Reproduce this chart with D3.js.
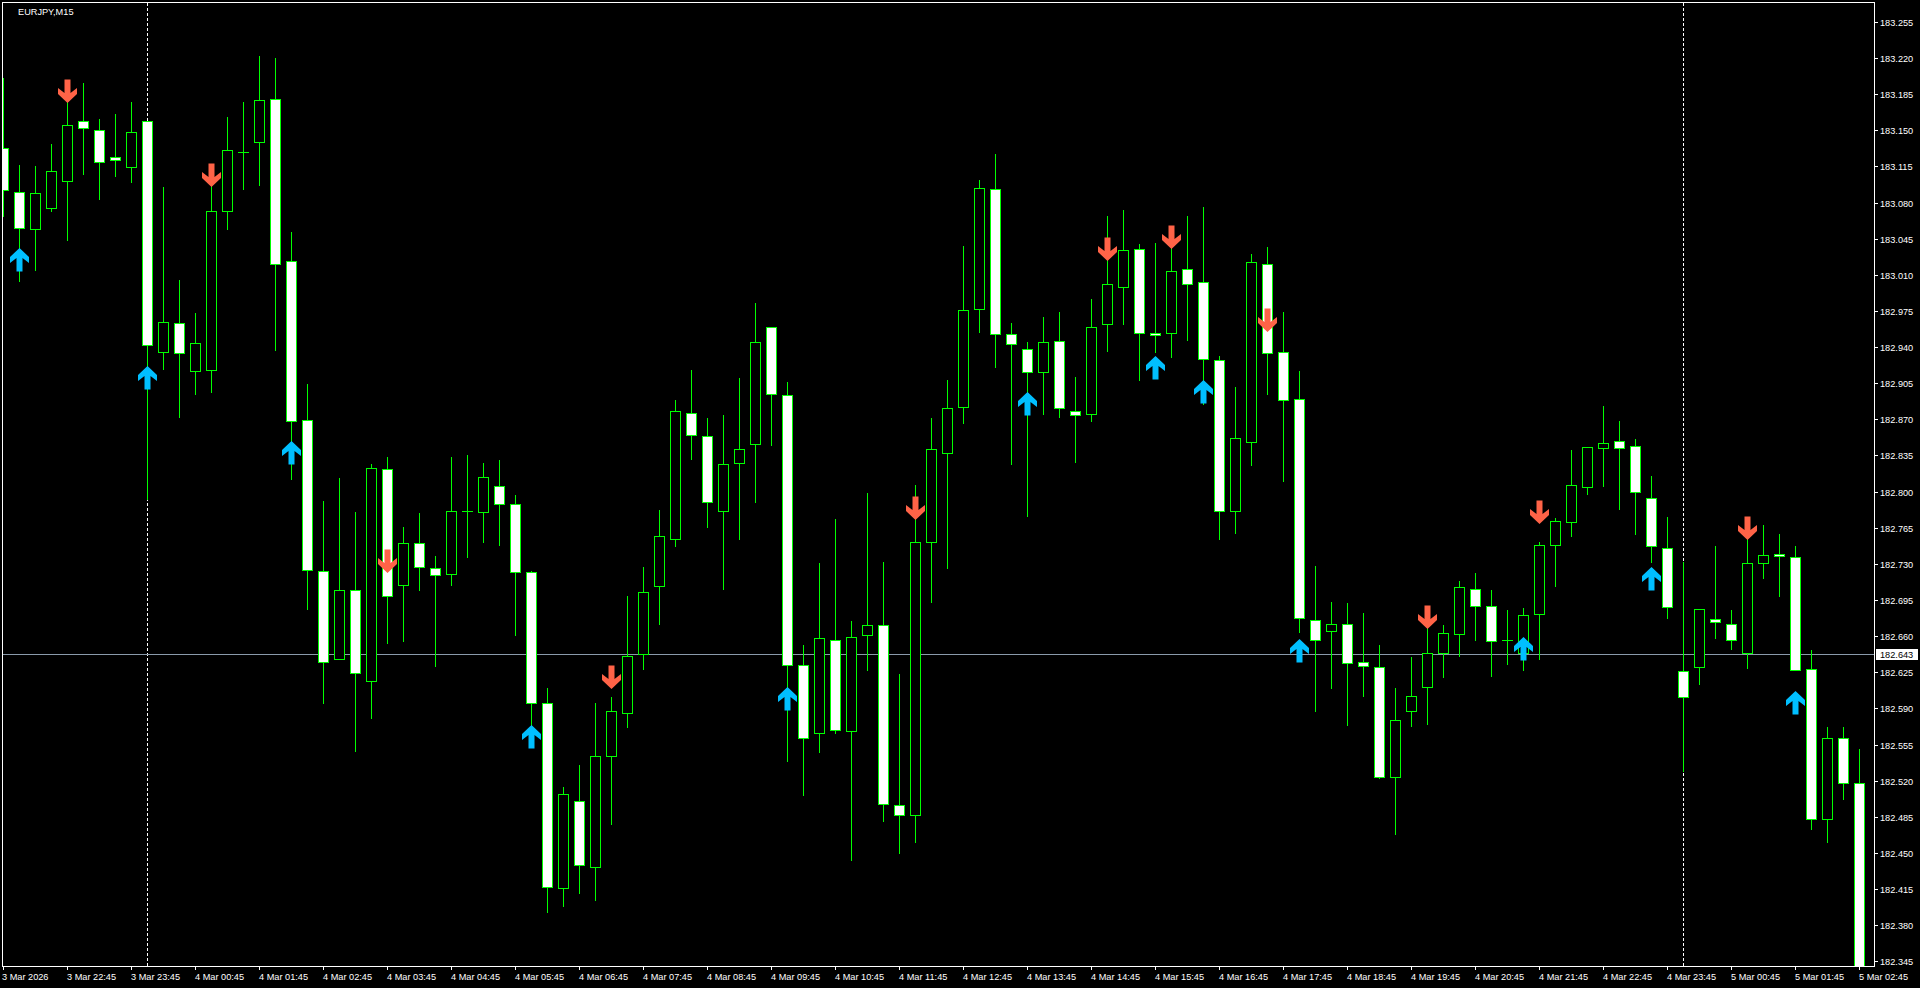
<!DOCTYPE html>
<html><head><meta charset="utf-8">
<script src="https://cdn.jsdelivr.net/npm/d3@7"></script>
<style>
html,body{margin:0;padding:0;background:#000;overflow:hidden}
svg text{font-family:"Liberation Sans",Arial,sans-serif;font-size:9.2px;fill:#fff}
</style>
</head><body>
<svg id="c" width="1920" height="988"></svg>
<script>
const symbolLabel = "EURJPY,M15";
const currentPrice = 182.643;

const open = [
183.133,183.090,183.054,183.075,183.101,183.159,183.150,183.124,183.114,183.159,
182.935,182.963,182.917,182.918,183.072,183.129,183.139,183.180,183.023,182.869,
182.723,182.638,182.705,182.617,182.822,182.710,182.750,182.726,182.720,182.781,
182.780,182.805,182.788,182.722,182.595,182.416,182.500,182.436,182.544,182.586,
182.643,182.709,182.754,182.876,182.854,182.781,182.828,182.846,182.959,182.894,
182.632,182.566,182.656,182.568,182.661,182.671,182.496,182.487,182.751,182.837,
182.882,182.977,183.093,182.953,182.938,182.916,182.946,182.878,182.875,182.962,
182.998,183.035,182.954,182.954,183.016,183.003,182.927,182.781,182.848,183.020,
182.935,182.890,182.676,182.665,182.672,182.635,182.630,182.524,182.587,182.611,
182.644,182.662,182.706,182.689,182.656,182.644,182.681,182.748,182.771,182.804,
182.842,182.849,182.844,182.794,182.745,182.626,182.630,182.677,182.672,182.644,
182.731,182.740,182.737,182.628,182.483,182.561,182.518];

const high = [
183.201,183.116,183.115,183.137,183.180,183.196,183.161,183.166,183.177,183.159,
183.095,183.005,182.973,183.096,183.163,183.177,183.222,183.220,183.051,182.904,
182.791,182.813,182.780,182.827,182.834,182.766,182.779,182.738,182.834,182.835,
182.828,182.831,182.797,182.723,182.610,182.514,182.535,182.595,182.601,182.699,
182.727,182.782,182.889,182.918,182.871,182.874,182.910,182.983,182.959,182.906,
182.651,182.731,182.773,182.675,182.799,182.732,182.623,182.806,182.871,182.908,
183.038,183.102,183.127,182.963,182.945,182.969,182.974,182.911,182.987,183.067,
183.073,183.040,183.041,183.040,183.067,183.076,182.931,182.901,183.030,183.037,
182.974,182.917,182.728,182.693,182.692,182.682,182.651,182.610,182.640,182.668,
182.671,182.713,182.721,182.705,182.685,182.687,182.751,182.774,182.840,182.843,
182.883,182.868,182.851,182.815,182.775,182.732,182.686,182.747,182.685,182.754,
182.768,182.759,182.747,182.647,182.572,182.572,182.551];

const low = [
183.067,183.004,183.015,183.072,183.044,183.108,183.083,183.106,183.100,182.793,
182.919,182.872,182.895,182.896,183.054,183.093,183.097,182.937,182.812,182.686,
182.595,182.638,182.549,182.581,182.653,182.655,182.705,182.631,182.710,182.737,
182.751,182.748,182.661,182.572,182.393,182.399,182.411,182.404,182.478,182.572,
182.628,182.672,182.747,182.832,182.766,182.706,182.754,182.790,182.845,182.539,
182.506,182.548,182.566,182.443,182.627,182.481,182.450,182.461,182.693,182.726,
182.866,182.955,182.921,182.827,182.776,182.875,182.872,182.829,182.868,182.936,
182.962,182.908,182.935,182.930,182.947,182.885,182.754,182.760,182.826,182.895,
182.810,182.664,182.587,182.610,182.574,182.602,182.523,182.468,182.573,182.575,
182.620,182.641,182.656,182.621,182.633,182.627,182.638,182.709,182.757,182.798,
182.805,182.783,182.759,182.732,182.678,182.529,182.614,182.658,182.648,182.629,
182.716,182.699,182.627,182.473,182.461,182.502,182.325];

const close = [
183.092,183.055,183.089,183.111,183.155,183.152,183.119,183.121,183.148,182.942,
182.964,182.934,182.944,183.072,183.131,183.129,183.179,183.020,182.868,182.724,
182.635,182.705,182.624,182.823,182.699,182.750,182.727,182.719,182.781,182.781,
182.814,182.788,182.722,182.595,182.417,182.507,182.438,182.544,182.587,182.641,
182.703,182.757,182.878,182.855,182.790,182.827,182.841,182.945,182.895,182.632,
182.561,182.658,182.569,182.659,182.671,182.497,182.487,182.751,182.841,182.881,
182.976,183.094,182.953,182.943,182.916,182.945,182.881,182.874,182.959,183.001,
183.034,182.954,182.952,183.014,183.001,182.928,182.781,182.852,183.022,182.934,
182.889,182.678,182.656,182.672,182.634,182.631,182.524,182.579,182.602,182.644,
182.663,182.708,182.689,182.655,182.656,182.680,182.748,182.772,182.806,182.843,
182.847,182.842,182.800,182.747,182.688,182.601,182.686,182.674,182.656,182.731,
182.739,182.738,182.627,182.483,182.561,182.518,182.330];

// signal arrows
const sellIdx   = [4,13,24,38,57,69,73,79,89,96,109];
const sellPrice = [183.177,183.096,182.722,182.610,182.773,183.024,183.036,182.956,182.668,182.770,182.754];
const buyIdx    = [1,9,18,33,49,64,72,75,81,95,103,112];
const buyPrice  = [183.036,182.922,182.849,182.574,182.611,182.896,182.931,182.908,182.657,182.659,182.727,182.607];

// day separators (bar index)
const separatorIdx = [9,105];

// axis labels
const timeLabelIdx = [0,4,8,12,16,20,24,28,32,36,40,44,48,52,56,60,64,68,72,76,80,84,88,92,96,100,104,108,112,116];
const timeLabels = ["3 Mar 2026","3 Mar 22:45","3 Mar 23:45","4 Mar 00:45","4 Mar 01:45","4 Mar 02:45","4 Mar 03:45",
"4 Mar 04:45","4 Mar 05:45","4 Mar 06:45","4 Mar 07:45","4 Mar 08:45","4 Mar 09:45","4 Mar 10:45","4 Mar 11:45",
"4 Mar 12:45","4 Mar 13:45","4 Mar 14:45","4 Mar 15:45","4 Mar 16:45","4 Mar 17:45","4 Mar 18:45","4 Mar 19:45",
"4 Mar 20:45","4 Mar 21:45","4 Mar 22:45","4 Mar 23:45","5 Mar 00:45","5 Mar 01:45","5 Mar 02:45"];
const priceTicks = ["183.255","183.220","183.185","183.150","183.115","183.080","183.045","183.010","182.975","182.940",
"182.905","182.870","182.835","182.800","182.765","182.730","182.695","182.660","182.625","182.590","182.555",
"182.520","182.485","182.450","182.415","182.380","182.345"];

const W = 1920, H = 988;
const L = 2, T = 2, R = 1874, B = 966;
const GREEN = "#00ff00";

const svg = d3.select("#c").attr("shape-rendering","crispEdges");
const x = d3.scaleLinear().domain([0,116]).range([3,1859]);
const y = d3.scaleLinear().domain([182.345,183.255]).range([961.3,21.9]);
const px = i => Math.round(x(i));
const py = v => Math.round(y(v));

svg.append("rect").attr("x",0).attr("y",0).attr("width",W).attr("height",H).attr("fill","#000");

svg.append("defs").append("clipPath").attr("id","plot")
  .append("rect").attr("x",L+1).attr("y",T+1).attr("width",R-L-1).attr("height",B-T-1);

const plot = svg.append("g").attr("clip-path","url(#plot)");

// day separators
plot.selectAll("line.sep").data(separatorIdx).join("line")
  .attr("x1",d=>px(d)+0.5).attr("x2",d=>px(d)+0.5)
  .attr("y1",T+1).attr("y2",B)
  .attr("stroke","#fff").attr("stroke-width",1).attr("stroke-dasharray","3,2");

// bid line
plot.append("line").attr("x1",L).attr("x2",R).attr("y1",py(currentPrice)+0.5).attr("y2",py(currentPrice)+0.5)
  .attr("stroke","#8a9aaa").attr("stroke-width",1);

const bars = open.map((o,i)=>({i,o,h:high[i],l:low[i],c:close[i]}));

// wicks
plot.selectAll("rect.wick").data(bars).join("rect").attr("class","wick")
  .attr("x",d=>px(d.i)).attr("y",d=>py(d.h))
  .attr("width",1).attr("height",d=>py(d.l)-py(d.h)+1)
  .attr("fill",GREEN);

// bodies
const bodies = bars.map(d=>{
  const top = py(Math.max(d.o,d.c)), bot = py(Math.min(d.o,d.c));
  return {...d, top, bot};
});
plot.selectAll("rect.doji").data(bodies.filter(d=>d.bot-d.top<1)).join("rect").attr("class","doji")
  .attr("x",d=>px(d.i)-5).attr("y",d=>d.top).attr("width",11).attr("height",1).attr("fill",GREEN);
plot.selectAll("rect.body").data(bodies.filter(d=>d.bot-d.top>=1)).join("rect").attr("class","body")
  .attr("x",d=>px(d.i)-5+0.5).attr("y",d=>d.top+0.5)
  .attr("width",10).attr("height",d=>d.bot-d.top)
  .attr("fill",d=>d.c<d.o?"#fff":"#000")
  .attr("stroke",GREEN).attr("stroke-width",1);

// arrows
const upPath = "M0,0 L9.5,9 L9.5,15 L3,10 L3,23.5 L-3,23.5 L-3,10 L-9.5,15 L-9.5,9 Z";
const downPath = "M0,0 L9.5,-9 L9.5,-15 L3,-10 L3,-23.5 L-3,-23.5 L-3,-10 L-9.5,-15 L-9.5,-9 Z";
const arrowsG = plot.append("g").attr("shape-rendering","geometricPrecision");
arrowsG.selectAll("path.sell").data(sellIdx.map((d,k)=>({i:d,p:sellPrice[k]}))).join("path")
  .attr("class","sell").attr("d",downPath)
  .attr("transform",d=>`translate(${px(d.i)+0.5},${py(d.p)+1})`)
  .attr("fill","#ff6347");
arrowsG.selectAll("path.buy").data(buyIdx.map((d,k)=>({i:d,p:buyPrice[k]}))).join("path")
  .attr("class","buy").attr("d",upPath)
  .attr("transform",d=>`translate(${px(d.i)+0.5},${py(d.p)})`)
  .attr("fill","#00bfff");

// frame
const frame = svg.append("g").attr("stroke","#fff").attr("stroke-width",1);
frame.append("line").attr("x1",L+0.5).attr("x2",L+0.5).attr("y1",T).attr("y2",B+1);
frame.append("line").attr("x1",L).attr("x2",R+1).attr("y1",T+0.5).attr("y2",T+0.5);
frame.append("line").attr("x1",R+0.5).attr("x2",R+0.5).attr("y1",T).attr("y2",B+1);
frame.append("line").attr("x1",L).attr("x2",R+1).attr("y1",B+0.5).attr("y2",B+0.5);

// price axis
const yg = svg.append("g");
yg.selectAll("rect.yt").data(priceTicks).join("rect").attr("class","yt")
  .attr("x",R+1).attr("y",d=>py(+d)).attr("width",3).attr("height",1).attr("fill","#fff");
yg.selectAll("text.yl").data(priceTicks).join("text").attr("class","yl")
  .attr("x",1880).attr("y",d=>py(+d)+4).text(d=>d);

// current price box
const cy = py(currentPrice);
yg.append("rect").attr("x",1876).attr("y",cy-5).attr("width",42).attr("height",11).attr("fill","#fff");
yg.append("text").attr("x",1880).attr("y",cy+4).style("fill","#000").text(currentPrice.toFixed(3));

// time axis
const xg = svg.append("g");
xg.selectAll("rect.xt").data(timeLabelIdx).join("rect").attr("class","xt")
  .attr("x",d=>px(d)).attr("y",B+1).attr("width",1).attr("height",3).attr("fill","#fff");
xg.selectAll("text.xl").data(timeLabelIdx).join("text").attr("class","xl")
  .attr("x",(d,k)=>k===0?L:px(d)).attr("y",980).text((d,k)=>timeLabels[k]);

// symbol label
svg.append("text").attr("x",18).attr("y",14.5).text(symbolLabel);
</script>
</body></html>
